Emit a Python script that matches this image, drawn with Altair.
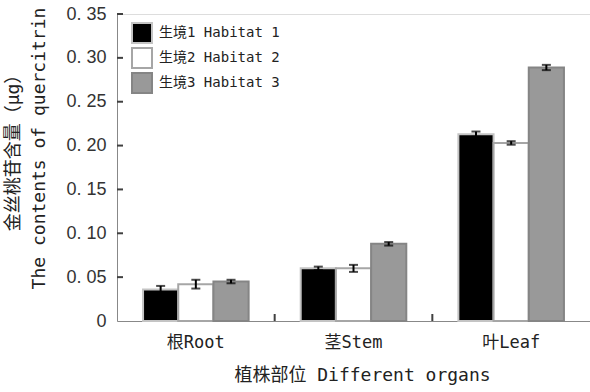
import altair as alt
import pandas as pd

# Quercitrin content by plant organ and habitat (mean ± error)
organs = ["根Root", "茎Stem", "叶Leaf"]
habitats = ["生境1 Habitat 1", "生境2 Habitat 2", "生境3 Habitat 3"]
means = {
    "生境1 Habitat 1": [0.036, 0.060, 0.213],
    "生境2 Habitat 2": [0.042, 0.060, 0.203],
    "生境3 Habitat 3": [0.045, 0.088, 0.289],
}
errors = {
    "生境1 Habitat 1": [0.004, 0.002, 0.003],
    "生境2 Habitat 2": [0.005, 0.004, 0.002],
    "生境3 Habitat 3": [0.002, 0.002, 0.003],
}
y_ticks = [0.05, 0.10, 0.15, 0.20, 0.25, 0.30, 0.35]

fills = ["#000000", "#ffffff", "#999999"]
strokes = ["#c4c4c4", "#a6a6a6", "#858585"]

rows = []
for h in habitats:
    for i, o in enumerate(organs):
        m, e = means[h][i], errors[h][i]
        rows.append({"organ": o, "habitat": h, "value": m, "lo": m - e, "hi": m + e})
df = pd.DataFrame(rows)

FONT = "DejaVu Sans Mono, Noto Sans CJK SC"
W, H = 473, 307

x_enc = alt.X("organ:N", sort=organs,
              scale=alt.Scale(paddingInner=0, paddingOuter=0),
              axis=alt.Axis(title="植株部位 Different organs", labelAngle=0,
                            ticks=False, labelPadding=13, labelFontSize=17,
                            labelFont=FONT, titleFont=FONT, titleFontSize=18,
                            titleFontWeight="normal", titleX=245, titleY=54,
                            titleBaseline="middle", titleAlign="center",
                            labelColor="#222222", titleColor="#222222"))
xo_enc = alt.XOffset("habitat:N", sort=habitats,
                     scale=alt.Scale(paddingInner=0, paddingOuter=0.74))
y_scale = alt.Scale(domain=[0, 0.35], nice=False, zero=True)

legend = alt.Legend(title=None, orient="none", legendX=14, legendY=8,
                    symbolType="square", symbolSize=400, symbolStrokeWidth=2,
                    labelFont=FONT, labelFontSize=14, labelColor="#222222",
                    rowPadding=-11, labelOffset=6)

bars = alt.Chart(df).mark_bar(strokeWidth=2).encode(
    x=x_enc,
    xOffset=xo_enc,
    y=alt.Y("value:Q", scale=y_scale,
            axis=alt.Axis(values=[0] + y_ticks, ticks=False, grid=False,
                          labelExpr="datum.value == 0 ? '0' : replace(format(datum.value, '.2f'), '.', '. ')",
                          labelFont="Liberation Sans", labelFontSize=18,
                          labelPadding=11, labelColor="#333333",
                          title=["金丝桃苷含量（μg）", "The contents of quercitrin"],
                          titleFont=FONT, titleFontSize=18, titleFontWeight="normal",
                          titleLineHeight=26, titleX=-95, titleY=134,
                          titleColor="#222222")),
    fill=alt.Fill("habitat:N", sort=habitats,
                  scale=alt.Scale(domain=habitats, range=fills), legend=legend),
    stroke=alt.Stroke("habitat:N", sort=habitats,
                      scale=alt.Scale(domain=habitats, range=strokes), legend=legend),
)

err_rule = alt.Chart(df).mark_rule(color="#000000", strokeWidth=2).encode(
    x=alt.X("organ:N", sort=organs), xOffset=alt.XOffset("habitat:N", sort=habitats),
    y=alt.Y("lo:Q", scale=y_scale), y2="hi:Q",
)
cap_lo = alt.Chart(df).mark_tick(color="#000000", size=9, thickness=2).encode(
    x=alt.X("organ:N", sort=organs), xOffset=alt.XOffset("habitat:N", sort=habitats),
    y=alt.Y("lo:Q", scale=y_scale),
)
cap_hi = alt.Chart(df).mark_tick(color="#000000", size=9, thickness=2).encode(
    x=alt.X("organ:N", sort=organs), xOffset=alt.XOffset("habitat:N", sort=habitats),
    y=alt.Y("hi:Q", scale=y_scale),
)

# Inward-pointing ticks on the value axis
ytick_df = pd.DataFrame({"v": y_ticks})
ytick_marks = alt.Chart(ytick_df).mark_rule(color="#404040", strokeWidth=2).encode(
    y=alt.Y("v:Q", scale=y_scale), x=alt.value(0), x2=alt.value(6),
)

# Category separator ticks on the bottom axis
xtick_df = pd.DataFrame({"organ": organs[1:]})
xtick_marks = alt.Chart(xtick_df).mark_rule(color="#404040", strokeWidth=2).encode(
    x=alt.X("organ:N", sort=organs, bandPosition=0),
    y=alt.value(H), y2=alt.value(H - 7),
)

chart = alt.layer(bars, err_rule, cap_lo, cap_hi, ytick_marks, xtick_marks).properties(
    width=W, height=H,
    autosize=alt.AutoSizeParams(type="none"),
    padding={"left": 117, "top": 14, "right": 0, "bottom": 71},
).configure_view(stroke=None).configure_axis(
    domainColor="#404040", domainWidth=2, grid=False,
).configure(background="#ffffff")

chart.save("out.html", embed_options={"renderer": "svg", "actions": False})
